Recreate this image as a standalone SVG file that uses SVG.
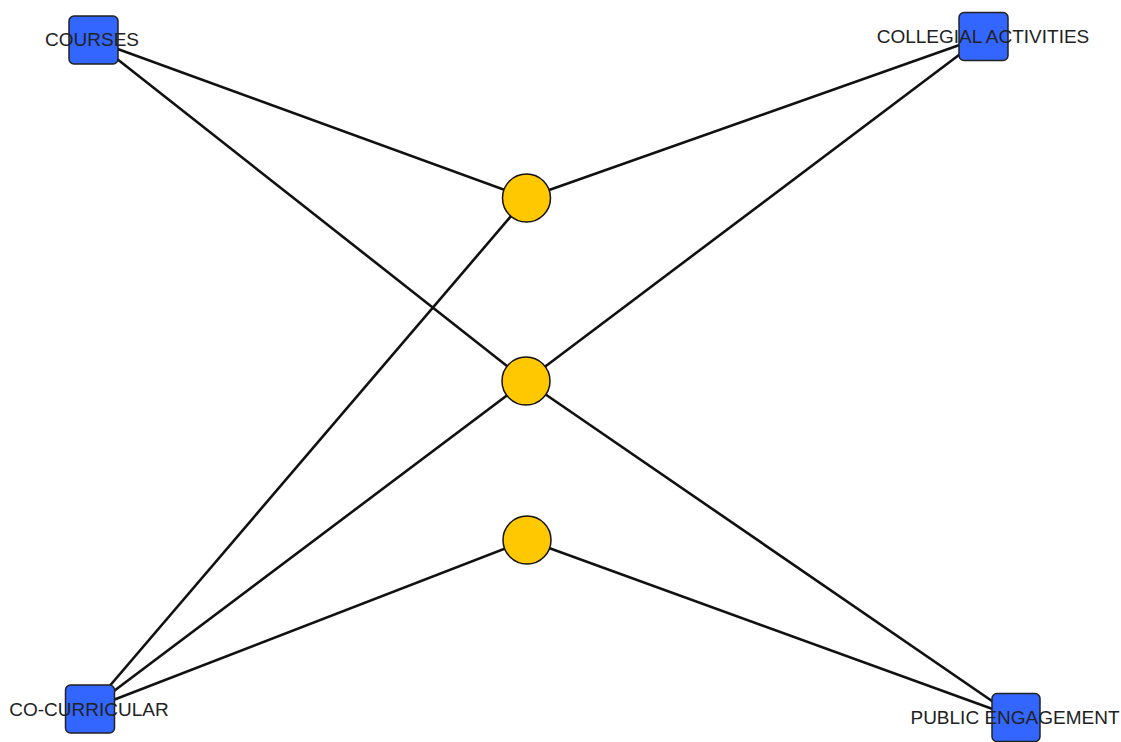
<svg xmlns="http://www.w3.org/2000/svg" width="1121" height="742" viewBox="0 0 1121 742">
<style>
.edge{stroke:#111;stroke-width:2.6;fill:none}
.sq{fill:#3366ff;stroke:#222;stroke-width:1.5}
.ci{fill:#ffc800;stroke:#111;stroke-width:1.5}
.lbl{font-family:"Liberation Sans",Arial,sans-serif;font-size:19px;fill:#222;text-anchor:middle}
</style>
<rect width="1121" height="742" fill="#ffffff"/>
<g id="connectors">
<line class="edge" x1="93" y1="40" x2="526.5" y2="198"/>
<line class="edge" x1="93" y1="40" x2="526" y2="381"/>
<line class="edge" x1="983.5" y1="36.5" x2="526.5" y2="198"/>
<line class="edge" x1="983.5" y1="36.5" x2="526" y2="381"/>
<line class="edge" x1="90" y1="709" x2="526.5" y2="198"/>
<line class="edge" x1="90" y1="709" x2="526" y2="381"/>
<line class="edge" x1="90" y1="709" x2="527" y2="540"/>
<line class="edge" x1="1016" y1="717.5" x2="526" y2="381"/>
<line class="edge" x1="1016" y1="717.5" x2="527" y2="540"/>
</g>
<g id="hub1"><circle class="ci" cx="526.5" cy="198" r="24"/></g>
<g id="hub2"><circle class="ci" cx="526" cy="381" r="24"/></g>
<g id="hub3"><circle class="ci" cx="527" cy="540" r="24"/></g>
<g id="courses"><rect class="sq" x="69" y="16" width="49" height="48" rx="5"/><text class="lbl" x="92" y="46">COURSES</text></g>
<g id="collegial"><rect class="sq" x="959" y="12.5" width="49" height="48" rx="5"/><text class="lbl" x="983" y="42.5">COLLEGIAL ACTIVITIES</text></g>
<g id="cocurricular"><rect class="sq" x="65.5" y="685" width="49" height="48" rx="5"/><text class="lbl" x="89" y="716">CO-CURRICULAR</text></g>
<g id="public"><rect class="sq" x="992" y="693.5" width="48" height="48" rx="5"/><text class="lbl" x="1015" y="724">PUBLIC ENGAGEMENT</text></g>
</svg>
